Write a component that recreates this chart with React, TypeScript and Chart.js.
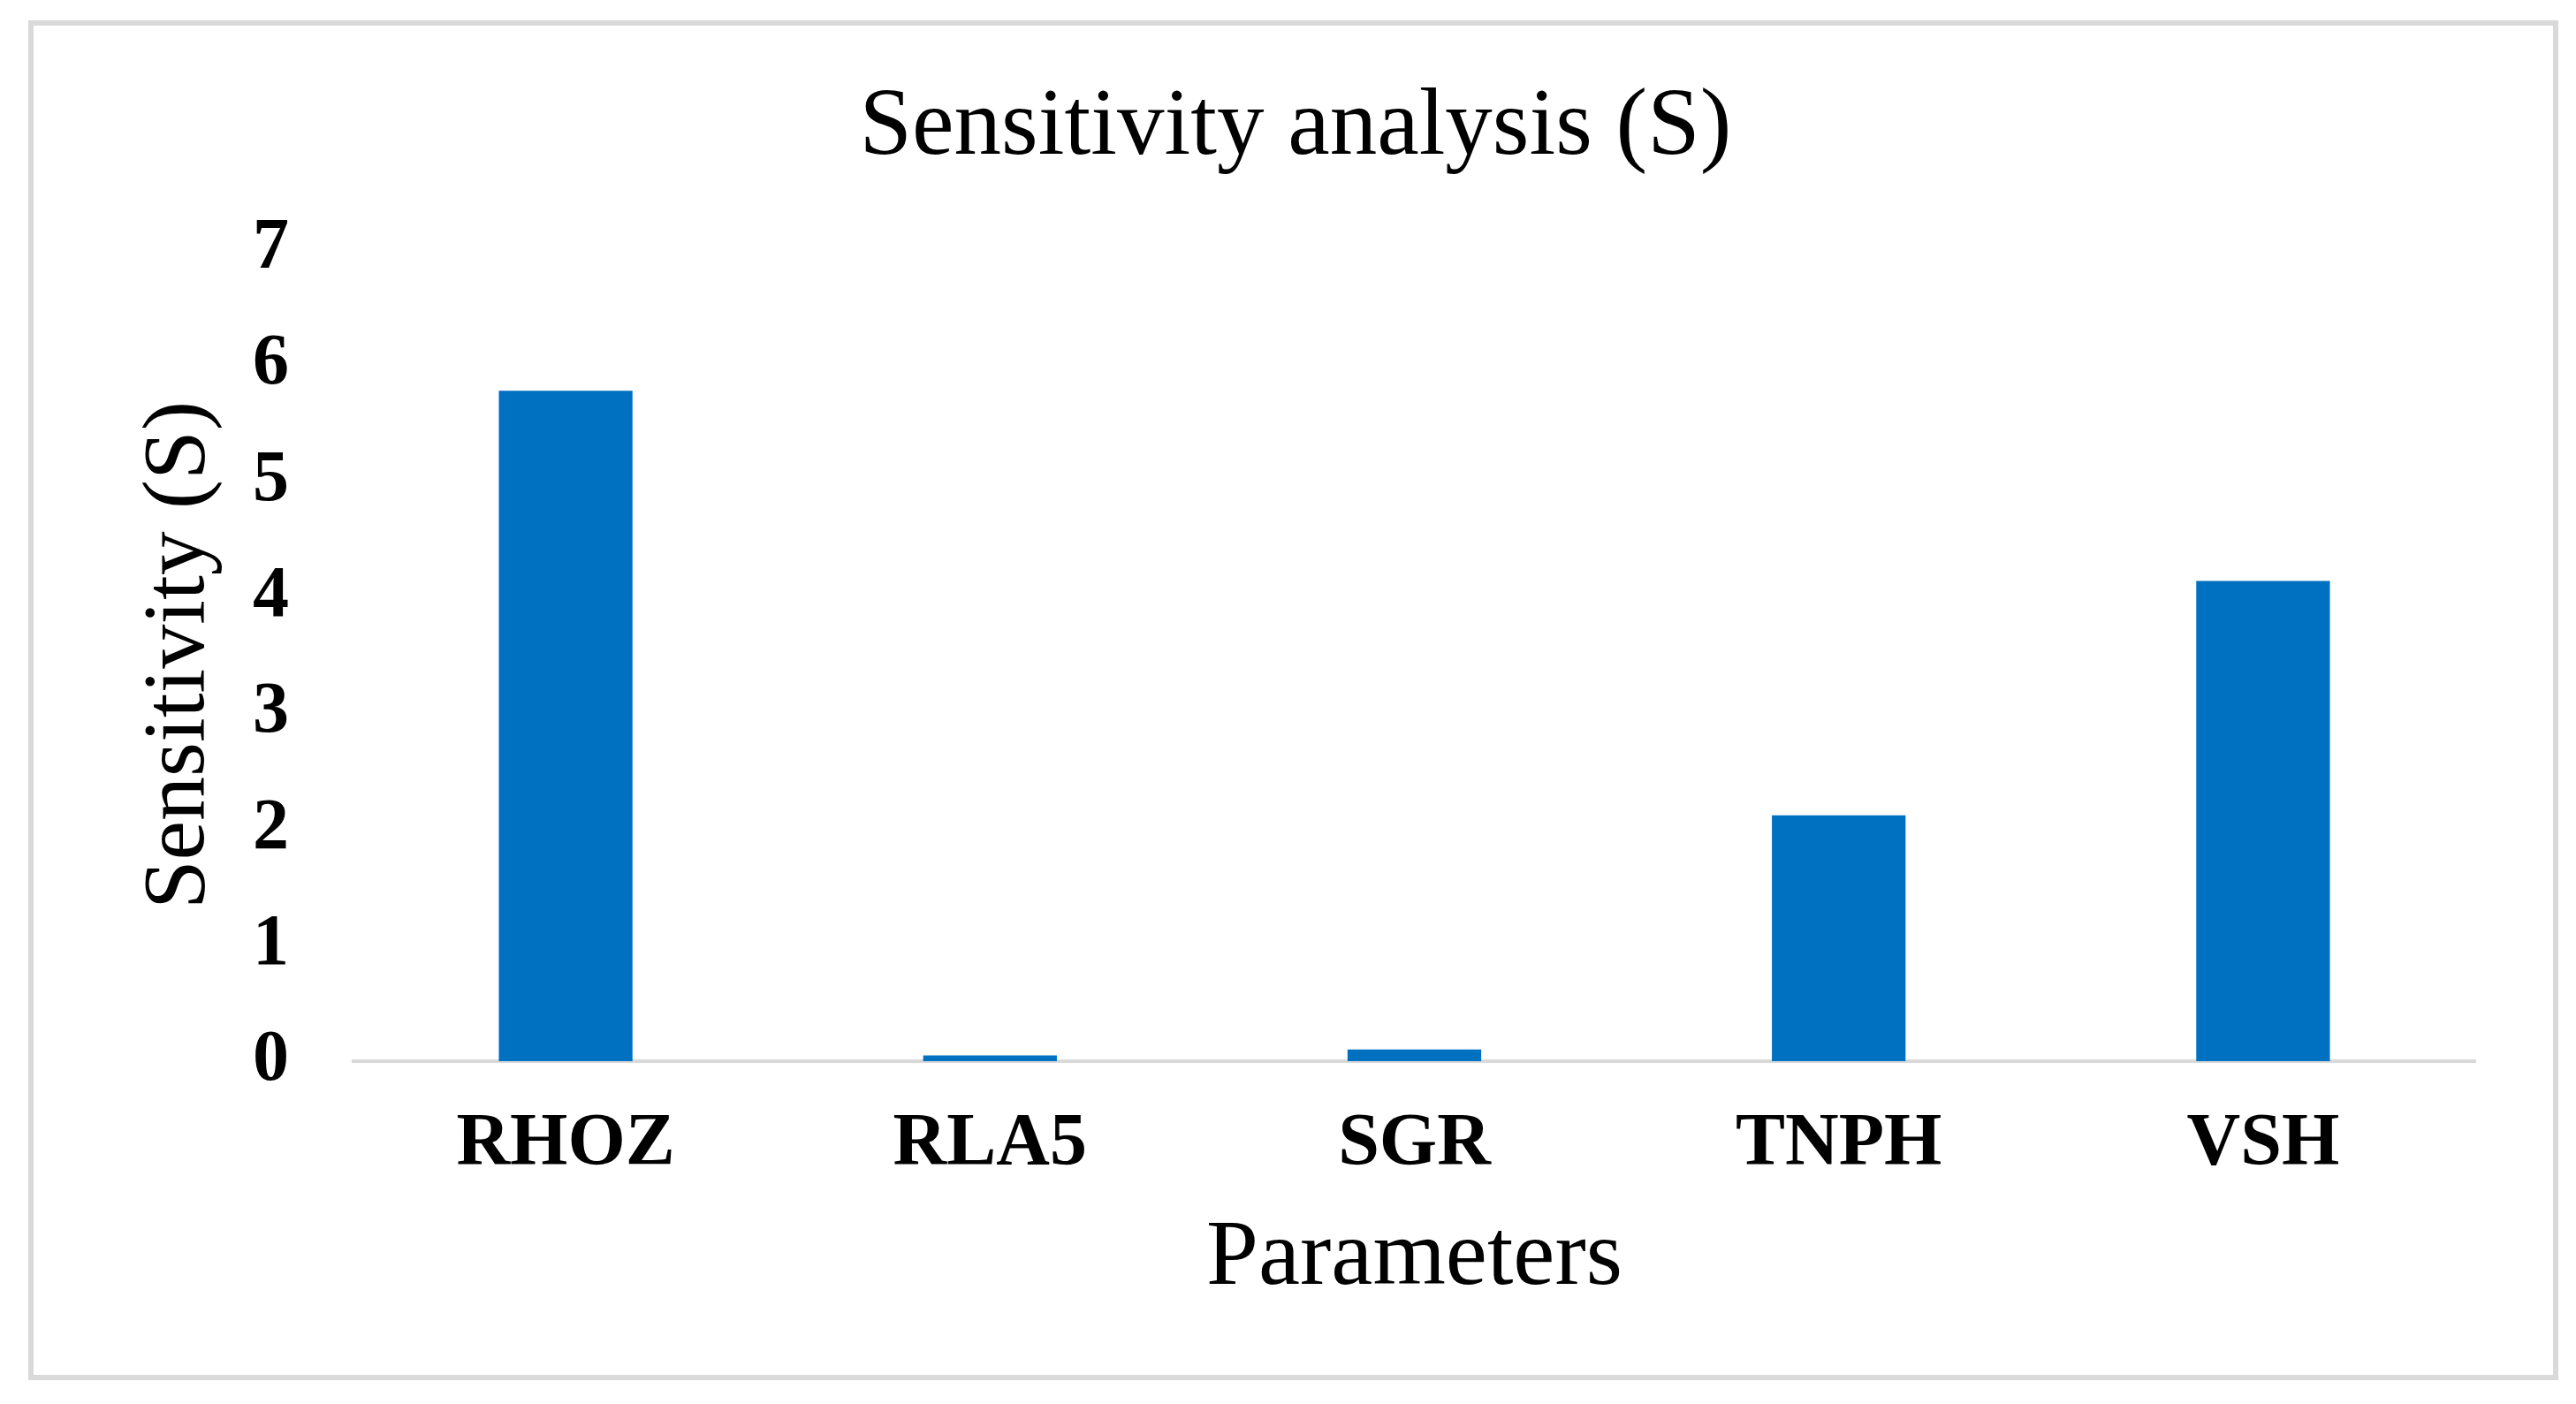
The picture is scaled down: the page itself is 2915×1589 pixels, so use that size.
import React, { useEffect, useRef } from "react";
import { Chart, registerables } from "chart.js";

Chart.register(...registerables);

const categories: string[] = ["RHOZ", "RLA5", "SGR", "TNPH", "VSH"];
const sensitivity: number[] = [5.78, 0.05, 0.1, 2.12, 4.14];
const yTicks: number[] = [0, 1, 2, 3, 4, 5, 6, 7];

const chartTitle = "Sensitivity analysis (S)";
const xTitle = "Parameters";
const yTitle = "Sensitivity (S)";

const W = 2915;
const H = 1589;
const FONT = "'Liberation Serif', 'Times New Roman', serif";

export default function App() {
  const ref = useRef<HTMLCanvasElement | null>(null);

  useEffect(() => {
    if (!ref.current) return;
    const chart = new Chart(ref.current, {
      type: "bar",
      data: {
        labels: categories,
        datasets: [
          {
            data: sensitivity,
            backgroundColor: "#0070C0",
            borderWidth: 0,
            barPercentage: 0.315,
            categoryPercentage: 1,
          },
        ],
      },
      options: {
        animation: false,
        responsive: true,
        maintainAspectRatio: false,
        layout: { padding: { left: 131, right: 114, top: 0, bottom: 88 } },
        plugins: {
          legend: { display: false },
          tooltip: { enabled: false },
          title: {
            display: true,
            text: chartTitle,
            color: "#000000",
            font: { family: FONT, size: 107, weight: "normal" },
            padding: { top: 82, bottom: 71.6 },
          },
        },
        scales: {
          x: {
            grid: { display: false, drawTicks: false },
            border: { display: true, color: "#d9d9d9", width: 4 },
            ticks: {
              color: "#000000",
              padding: 45,
              font: { family: FONT, size: 84, weight: "bold" },
            },
            title: {
              display: true,
              text: xTitle,
              color: "#000000",
              font: { family: FONT, size: 106, weight: "normal" },
              padding: { top: 0, bottom: 12 },
            },
            afterFit: (scale: any) => {
              scale.height = 300;
            },
          },
          y: {
            min: 0,
            max: 7,
            afterBuildTicks: (scale: any) => {
              scale.ticks = yTicks.map((v) => ({ value: v }));
            },
            grid: { display: false, drawTicks: false },
            border: { display: false },
            ticks: {
              color: "#000000",
              padding: 73,
              font: { family: FONT, size: 82, weight: "bold" },
            },
            title: {
              display: true,
              text: yTitle,
              color: "#000000",
              font: { family: FONT, size: 100, weight: "normal" },
              padding: { top: 13, bottom: 0 },
            },
            afterFit: (scale: any) => {
              scale.width = 269;
            },
          },
        },
      },
    });
    return () => chart.destroy();
  }, []);

  return (
    <div style={{ position: "fixed", left: 0, top: 0, width: W, height: H, background: "#ffffff" }}>
      <div
        style={{
          position: "absolute",
          left: 32,
          top: 23,
          width: 2863,
          height: 1539,
          boxSizing: "border-box",
          border: "6px solid #d9d9d9",
          pointerEvents: "none",
        }}
      />
      <div style={{ position: "absolute", left: 0, top: 0, width: W, height: H }}>
        <canvas ref={ref} />
      </div>
    </div>
  );
}
